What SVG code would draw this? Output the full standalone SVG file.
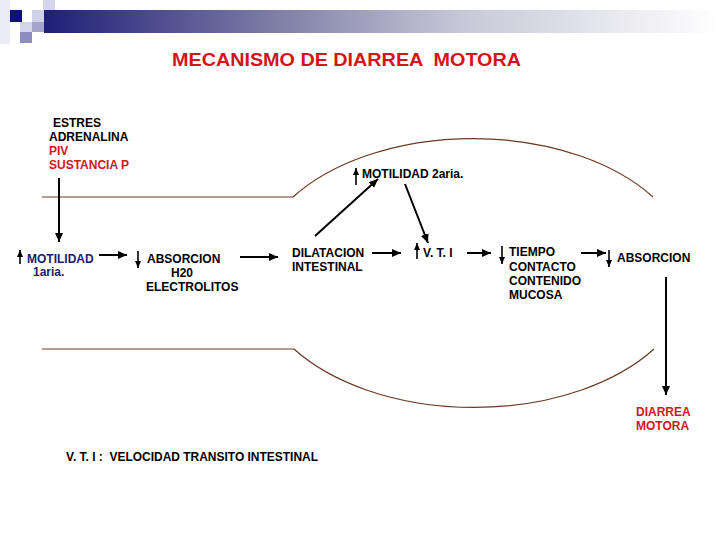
<svg xmlns="http://www.w3.org/2000/svg" width="720" height="540" viewBox="0 0 720 540">
<defs>
<linearGradient id="bar" x1="0" y1="0" x2="1" y2="0">
<stop offset="0" stop-color="#1e1e78"/>
<stop offset="0.35" stop-color="#8080a8"/>
<stop offset="0.62" stop-color="#c8c8d8"/>
<stop offset="1" stop-color="#ffffff"/>
</linearGradient>
<marker id="ah" markerUnits="userSpaceOnUse" markerWidth="10" markerHeight="8" refX="9" refY="4" orient="auto">
<path d="M0,0 L9,4 L0,8 Z" fill="#000"/>
</marker>
<marker id="sh" markerUnits="userSpaceOnUse" markerWidth="8" markerHeight="6" refX="7" refY="3" orient="auto">
<path d="M0,0 L7,3 L0,6 Z" fill="#000"/>
</marker>
</defs>
<style>
text{font-family:"Liberation Sans",Arial,sans-serif;font-weight:bold;font-size:12px;fill:#000}
.red{fill:#d4141c}
.navy{fill:#1c1c6e}
.conn line,.conn path{stroke:#000;stroke-width:2;fill:none}
.sm line{stroke:#000;stroke-width:1.6}
.wall{stroke:#6b3a22;stroke-width:1.2;fill:none}
</style>
<g id="decor">
<rect x="0" y="0" width="10" height="44" fill="#ececf6"/>
<rect x="43" y="0" width="12" height="10" fill="#d4d4ea"/>
<rect x="10" y="10" width="12" height="12" fill="#10107a"/>
<rect x="32" y="10" width="12" height="12" fill="#d0d0e8"/>
<rect x="20" y="22" width="12" height="10" fill="#d4d4ea"/>
<rect x="32" y="22" width="12" height="10" fill="#a4a4cc"/>
<rect x="20" y="32" width="12" height="11" fill="#8c8cc0"/>
<rect x="44" y="10" width="676" height="23" fill="url(#bar)"/>
</g>
<text id="title" x="172" y="66" class="red" style="font-size:18px" textLength="349" lengthAdjust="spacingAndGlyphs" xml:space="preserve">MECANISMO DE DIARREA  MOTORA</text>
<g id="intestine">
<path class="wall" d="M42,197 H293 A218,134 0 0 1 653,197"/>
<path class="wall" d="M42,349 H294 A218,134 0 0 0 654,349"/>
</g>
<g id="causes">
<text x="53" y="127">ESTRES</text>
<text x="49" y="141">ADRENALINA</text>
<text x="49" y="155" class="red">PIV</text>
<text x="49" y="169" class="red">SUSTANCIA P</text>
</g>
<g id="motilidad1">
<text x="27" y="263" class="navy">MOTILIDAD</text>
<text x="33" y="276" class="navy">1aria.</text>
</g>
<g id="absorcion1">
<text x="147" y="263">ABSORCION</text>
<text x="171" y="277">H20</text>
<text x="146" y="291">ELECTROLITOS</text>
</g>
<g id="dilatacion">
<text x="292" y="257">DILATACION</text>
<text x="292" y="271">INTESTINAL</text>
</g>
<g id="motilidad2">
<text x="362" y="178">MOTILIDAD 2aria.</text>
</g>
<g id="vti">
<text x="423" y="257">V. T. I</text>
</g>
<g id="tiempo">
<text x="509" y="256">TIEMPO</text>
<text x="509" y="271">CONTACTO</text>
<text x="509" y="285">CONTENIDO</text>
<text x="509" y="299">MUCOSA</text>
</g>
<g id="absorcion2">
<text x="617" y="262">ABSORCION</text>
</g>
<g id="diarrea">
<text x="636" y="416" class="red">DIARREA</text>
<text x="636" y="430" class="red">MOTORA</text>
</g>
<text id="legend" x="66" y="461" textLength="252" lengthAdjust="spacingAndGlyphs" xml:space="preserve">V. T. I :  VELOCIDAD TRANSITO INTESTINAL</text>
<g id="connectors" class="conn">
<line x1="59" y1="178" x2="59" y2="242" marker-end="url(#ah)"/>
<line x1="99" y1="255" x2="127" y2="255" marker-end="url(#ah)"/>
<line x1="240" y1="257" x2="278" y2="257" marker-end="url(#ah)"/>
<line x1="372" y1="253" x2="401" y2="253" marker-end="url(#ah)"/>
<line x1="467" y1="253" x2="491" y2="253" marker-end="url(#ah)"/>
<line x1="581" y1="253" x2="606" y2="253" marker-end="url(#ah)"/>
<line x1="315" y1="236" x2="378" y2="179" marker-end="url(#ah)"/>
<line x1="405" y1="184" x2="428" y2="243" marker-end="url(#ah)"/>
<line x1="666" y1="277" x2="666" y2="395" marker-end="url(#ah)"/>
</g>
<g id="indicators" class="conn sm">
<line x1="20" y1="264" x2="20" y2="250" marker-end="url(#sh)"/>
<line x1="138" y1="251" x2="138" y2="268" marker-end="url(#sh)"/>
<line x1="356" y1="185" x2="356" y2="168" marker-end="url(#sh)"/>
<line x1="417" y1="259" x2="417" y2="243" marker-end="url(#sh)"/>
<line x1="502" y1="246" x2="502" y2="264" marker-end="url(#sh)"/>
<line x1="609" y1="250" x2="609" y2="267" marker-end="url(#sh)"/>
</g>
</svg>
